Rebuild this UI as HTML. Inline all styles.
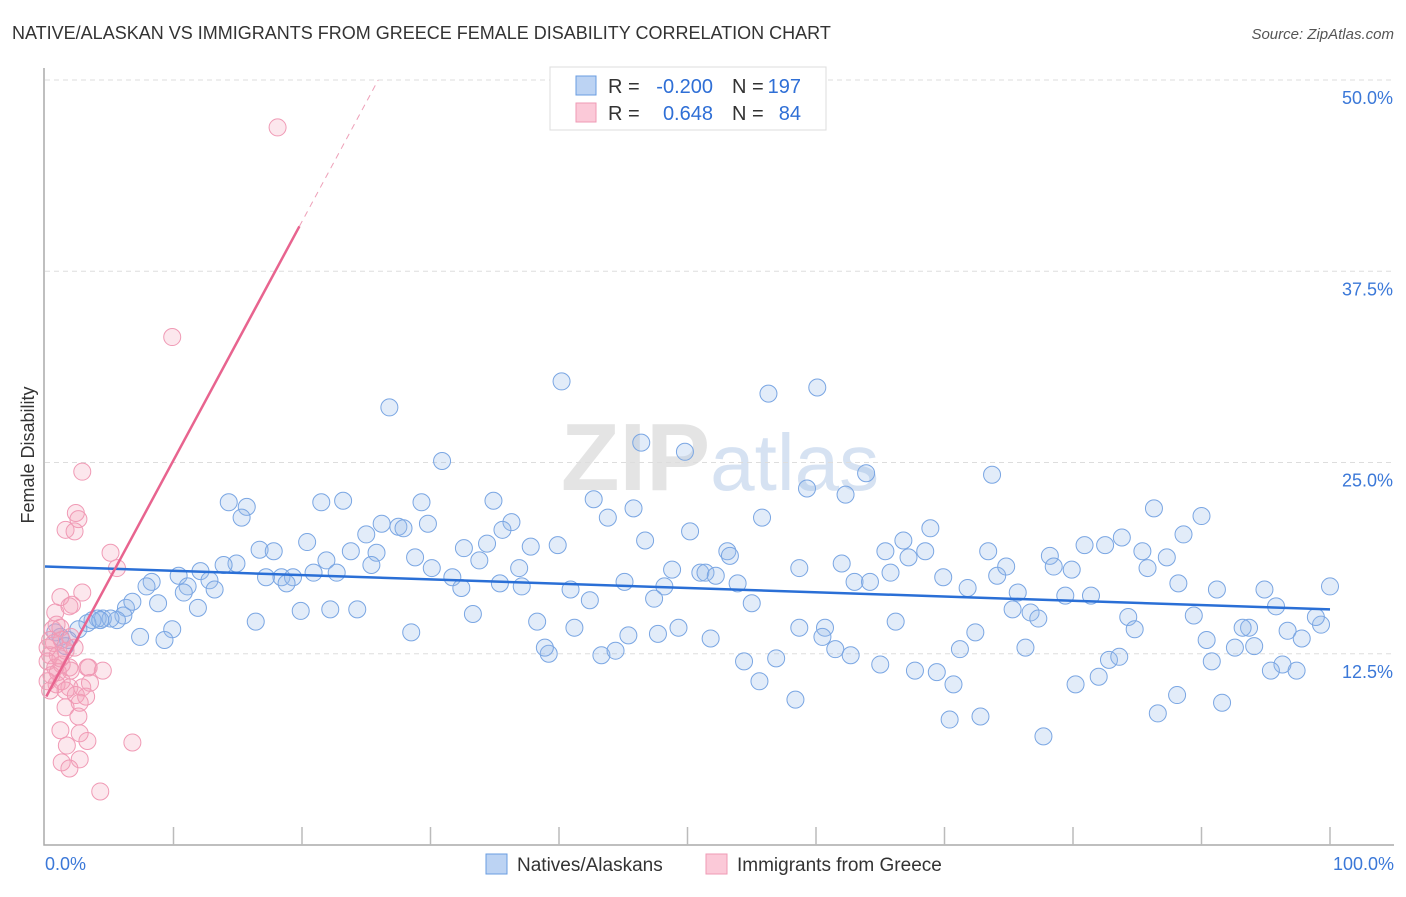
<!DOCTYPE html>
<html><head><meta charset="utf-8"><style>
body{margin:0;background:#fff;font-family:"Liberation Sans",sans-serif;}
svg text{font-family:"Liberation Sans",sans-serif;}
</style></head><body>
<svg id="chart" width="1406" height="892" xmlns="http://www.w3.org/2000/svg">
<text x="12" y="39" font-size="18" fill="#333">NATIVE/ALASKAN VS IMMIGRANTS FROM GREECE FEMALE DISABILITY CORRELATION CHART</text>
<text x="1394" y="39" font-size="15" fill="#555" text-anchor="end" font-style="italic">Source: ZipAtlas.com</text>
<text x="720" y="490" font-size="96" fill="#e4e4e4" text-anchor="middle" font-family="Liberation Serif" font-weight="bold">ZIP<tspan fill="#d6e2f2" font-family="Liberation Sans" font-weight="normal" font-size="80">atlas</tspan></text>
<g id="grid"></g><g id="axes"></g><g id="pts"></g><g id="lines"></g>
<text transform="translate(34,455) rotate(-90)" font-size="18" fill="#333" text-anchor="middle">Female Disability</text>
<g>
<rect x="550" y="67" width="276" height="63" fill="#fff" stroke="#ddd"/>
<rect x="576" y="76" width="20" height="19" fill="#bcd3f3" stroke="#6a9de0"/>
<rect x="576" y="103" width="20" height="19" fill="#fbc9d8" stroke="#ef9ab5"/>
<text x="608" y="93" font-size="20" fill="#333">R =</text>
<text x="713" y="93" font-size="20" fill="#2f6fd6" text-anchor="end">-0.200</text>
<text x="732" y="93" font-size="20" fill="#333">N =</text>
<text x="801" y="93" font-size="20" fill="#2f6fd6" text-anchor="end">197</text>
<text x="608" y="120" font-size="20" fill="#333">R =</text>
<text x="713" y="120" font-size="20" fill="#2f6fd6" text-anchor="end">0.648</text>
<text x="732" y="120" font-size="20" fill="#333">N =</text>
<text x="801" y="120" font-size="20" fill="#2f6fd6" text-anchor="end">84</text>
</g>
<g>
<rect x="486" y="854" width="21" height="20" fill="#bcd3f3" stroke="#6a9de0"/>
<text x="517" y="871" font-size="19" fill="#333">Natives/Alaskans</text>
<rect x="706" y="854" width="21" height="20" fill="#fbc9d8" stroke="#ef9ab5"/>
<text x="737" y="871" font-size="19" fill="#333">Immigrants from Greece</text>
</g>
</svg>
<script>
const yTicks=[12.5,25,37.5,50];
const yTickLabels=["12.5%","25.0%","37.5%","50.0%"];
const xTickLabels=["0.0%","100.0%"];
const blueX=[40.2,26.8,56.3,60.1,46.4,49.8,30.9,63.9,73.7,59.3,62.3,14.3,15.7,15.3,21.5,23.2,34.9,29.3,42.7,45.8,43.8,55.8,26.2,27.5,27.9,29.8,36.3,35.6,25.0,86.3,90.0,68.9,66.8,50.2,46.7,88.6,20.4,16.7,17.8,23.8,25.8,21.9,28.8,32.6,34.4,37.8,39.9,53.1,53.3,65.4,68.5,73.4,78.2,80.9,82.5,83.8,85.4,87.3,78.5,79.9,85.8,67.2,62.0,58.7,48.8,51.0,51.4,52.2,36.9,33.8,30.1,31.7,32.4,35.4,37.1,14.9,13.9,12.1,12.8,10.4,8.3,7.9,11.1,10.8,13.2,17.2,18.4,19.3,18.8,20.9,22.7,25.4,40.9,42.4,45.1,48.2,47.4,53.9,55.0,63.0,64.2,65.8,69.9,71.8,74.1,75.7,74.8,79.4,81.4,88.2,91.2,94.9,95.8,100.0,6.3,6.1,6.8,8.8,11.9,5.6,4.5,4.1,5.1,3.7,3.3,2.6,4.3,16.4,19.9,22.2,24.3,33.3,38.3,41.2,47.7,49.3,51.8,58.7,60.7,60.5,66.2,72.4,75.3,76.7,77.3,84.3,84.8,89.4,93.7,96.7,99.3,98.9,97.8,92.6,93.2,94.1,90.4,76.3,71.2,61.5,62.7,56.9,54.4,45.4,43.3,44.4,39.2,38.9,28.5,9.9,7.4,9.3,1.2,0.8,1.8,1.6,65.0,67.7,69.4,70.7,55.6,58.4,80.2,82.0,82.8,83.6,88.1,90.8,96.3,95.4,97.4,91.6,86.6,72.8,70.4,77.7];
const blueY=[30.3,28.6,29.5,29.9,26.3,25.7,25.1,24.3,24.2,23.3,22.9,22.4,22.1,21.4,22.4,22.5,22.5,22.4,22.6,22.0,21.4,21.4,21.0,20.8,20.7,21.0,21.1,20.6,20.3,22.0,21.5,20.7,19.9,20.5,19.9,20.3,19.8,19.3,19.2,19.2,19.1,18.6,18.8,19.4,19.7,19.5,19.6,19.2,18.9,19.2,19.2,19.2,18.9,19.6,19.6,20.1,19.2,18.8,18.2,18.0,18.1,18.8,18.4,18.1,18.0,17.8,17.8,17.6,18.1,18.6,18.1,17.5,16.8,17.1,16.9,18.4,18.3,17.9,17.3,17.6,17.2,16.9,16.9,16.5,16.7,17.5,17.5,17.5,17.1,17.8,17.8,18.3,16.7,16.0,17.2,16.9,16.1,17.1,15.8,17.2,17.2,17.8,17.5,16.8,17.6,16.5,18.2,16.3,16.3,17.1,16.7,16.7,15.6,16.9,15.5,15.0,15.9,15.8,15.5,14.7,14.8,14.8,14.8,14.7,14.5,14.1,14.7,14.6,15.3,15.4,15.4,15.1,14.6,14.2,13.8,14.2,13.5,14.2,14.2,13.6,14.6,13.9,15.4,15.2,14.8,14.9,14.1,15.0,14.2,14.0,14.4,14.9,13.5,12.9,14.2,13.0,13.4,12.9,12.8,12.8,12.4,12.2,12.0,13.7,12.4,12.7,12.5,12.9,13.9,14.1,13.6,13.4,13.6,13.9,13.4,13.0,11.8,11.4,11.3,10.5,10.7,9.5,10.5,11.0,12.1,12.3,9.8,12.0,11.8,11.4,11.4,9.3,8.6,8.4,8.2,7.1];
const pinkX=[18.1,9.9,2.9,2.4,2.6,1.6,2.3,5.1,5.6,2.9,1.2,2.1,1.9,0.8,0.6,1.2,0.9,0.4,0.7,1.3,2.0,0.2,0.4,1.0,1.6,0.2,0.8,1.3,1.9,3.3,3.4,4.5,0.5,1.0,2.0,0.2,0.9,1.3,1.9,2.9,3.5,0.4,1.6,2.4,3.2,1.6,2.6,1.2,3.3,1.7,2.7,6.8,1.3,1.9,2.7,4.3,2.7,1.2,2.3];
const pinkY=[46.9,33.2,24.4,21.7,21.3,20.6,20.5,19.1,18.1,16.5,16.2,15.7,15.6,15.2,14.1,14.2,14.4,13.4,13.2,13.4,13.6,12.9,12.4,12.4,12.7,12.0,11.6,11.8,11.6,11.6,11.6,11.4,11.1,11.3,11.4,10.7,10.5,10.7,10.3,10.3,10.6,10.1,10.1,9.8,9.7,9.0,8.4,7.5,6.8,6.5,7.3,6.7,5.4,5.0,5.6,3.5,9.3,12.2,12.9];
const blueTrend=[18.2,15.4];      // y at x=0 and x=100
const pinkTrend=[9.55,1.56];      // intercept, slope
const pinkSolidEnd=19.8;
const L=45,R=1330,T=80,B=845;
const sx=v=>L+(R-L)*v/100;
const sy=v=>B-(B-T)*v/50;
const NS="http://www.w3.org/2000/svg";
function mk(tag,attrs,parent){const e=document.createElementNS(NS,tag);for(const k in attrs)e.setAttribute(k,attrs[k]);document.getElementById(parent).appendChild(e);return e;}
yTicks.forEach((t,i)=>{
 const g=mk('line',{x1:L,x2:1394,y1:sy(t),y2:sy(t),stroke:'#ddd','stroke-dasharray':'5,4'},'grid');
 
 
 const tx=mk('text',{x:1393,y:sy(t)+24,'font-size':18,fill:'#3b78d8','text-anchor':'end'},'axes');
 tx.textContent=yTickLabels[i];
 
 
});
const ax=mk('path',{d:`M${L-1} 68 V${B} H1394`,stroke:'#aaa',fill:'none','stroke-width':1.5},'axes');


for(let i=1;i<=10;i++){
 const tk=mk('line',{x1:sx(i*10),x2:sx(i*10),y1:B,y2:B-18,stroke:'#bbb','stroke-width':1.5},'axes');
 
 
}
const x0=mk('text',{x:L,y:870,'font-size':18,fill:'#3b78d8'},'axes');x0.textContent=xTickLabels[0];


const x1=mk('text',{x:1394,y:870,'font-size':18,fill:'#3b78d8','text-anchor':'end'},'axes');x1.textContent=xTickLabels[1];


blueX.forEach((v,i)=>{
 const c=mk('circle',{cx:sx(v),cy:sy(blueY[i]),r:8.5,fill:'rgba(150,185,235,0.28)',stroke:'#7aa6e3','stroke-width':1},'pts');
 
 
});
pinkX.forEach((v,i)=>{
 const c=mk('circle',{cx:sx(v),cy:sy(pinkY[i]),r:8.5,fill:'rgba(245,160,185,0.25)',stroke:'#f09ab5','stroke-width':1},'pts');
 
 
});
const bl=mk('line',{x1:sx(0),y1:sy(blueTrend[0]),x2:sx(100),y2:sy(blueTrend[1]),stroke:'#2a6fd6','stroke-width':2.5},'lines');


const px0=0.1,pEnd=(50-pinkTrend[0])/pinkTrend[1];
const pl=mk('line',{x1:sx(px0),y1:sy(pinkTrend[0]+pinkTrend[1]*px0),x2:sx(pinkSolidEnd),y2:sy(pinkTrend[0]+pinkTrend[1]*pinkSolidEnd),stroke:'#e8648f','stroke-width':2.5},'lines');


const pd=mk('line',{x1:sx(pinkSolidEnd),y1:sy(pinkTrend[0]+pinkTrend[1]*pinkSolidEnd),x2:sx(pEnd),y2:sy(50),stroke:'#eea0b8','stroke-width':1,'stroke-dasharray':'6,5'},'lines');


</script>
</body></html>
